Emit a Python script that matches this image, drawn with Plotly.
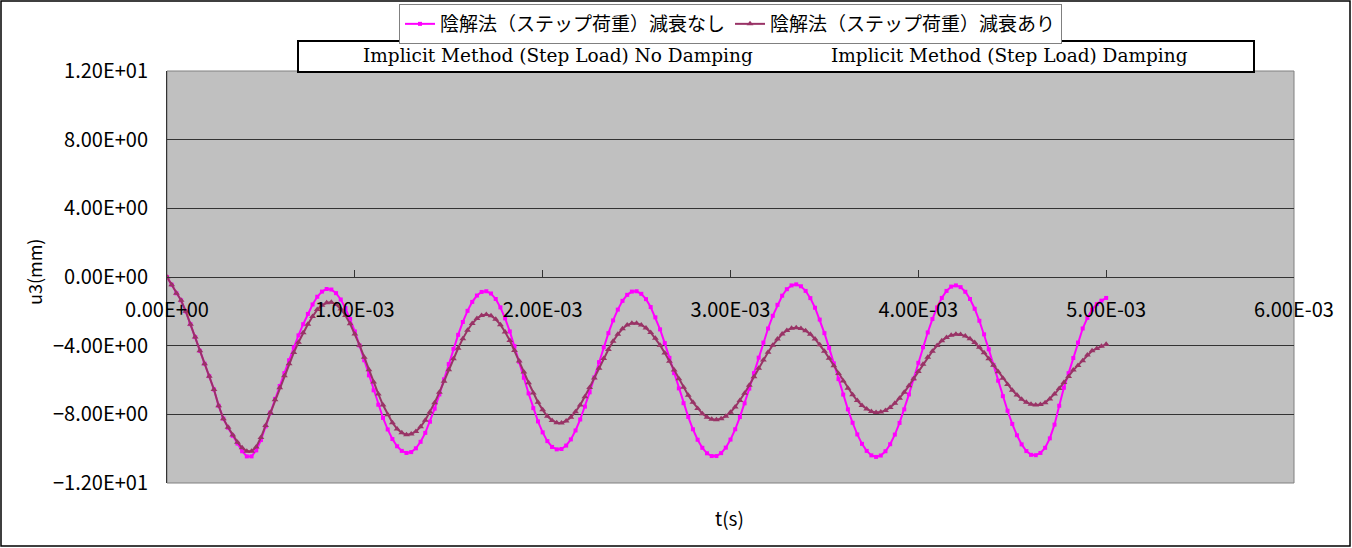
import plotly.graph_objects as go

# sampled response, u3 in mm, every 2.5e-5 s from 0 to 5e-3 s
no_damping = [
    0, -0.45, -0.95, -1.36, -2.00, -2.75, -3.50, -4.30,
    -5.05, -5.78, -6.55, -7.50, -8.25, -8.78, -9.25, -9.70,
    -10.15, -10.45, -10.45, -10.10, -9.50, -8.70, -7.90, -7.10,
    -6.35, -5.60, -4.85, -4.10, -3.40, -2.75, -2.15, -1.60,
    -1.15, -0.85, -0.70, -0.73, -0.94, -1.31, -1.81, -2.44,
    -3.17, -3.99, -4.85, -5.73, -6.60, -7.44, -8.21, -8.88,
    -9.44, -9.86, -10.13, -10.25, -10.20, -9.98, -9.60, -9.08,
    -8.43, -7.67, -6.84, -5.96, -5.07, -4.19, -3.37, -2.62,
    -1.97, -1.45, -1.08, -0.87, -0.83, -0.96, -1.28, -1.77,
    -2.41, -3.17, -4.03, -4.94, -5.87, -6.78, -7.64, -8.41,
    -9.05, -9.56, -9.90, -10.04, -10.02, -9.82, -9.46, -8.94,
    -8.30, -7.55, -6.72, -5.85, -4.96, -4.09, -3.27, -2.53,
    -1.90, -1.39, -1.04, -0.85, -0.83, -0.98, -1.29, -1.75,
    -2.35, -3.05, -3.85, -4.71, -5.60, -6.49, -7.35, -8.15,
    -8.87, -9.48, -9.95, -10.27, -10.43, -10.43, -10.26, -9.94,
    -9.47, -8.87, -8.16, -7.36, -6.50, -5.60, -4.70, -3.82,
    -3.00, -2.26, -1.62, -1.09, -0.71, -0.49, -0.43, -0.54,
    -0.81, -1.23, -1.79, -2.48, -3.27, -4.13, -5.03, -5.95,
    -6.85, -7.71, -8.49, -9.17, -9.72, -10.13, -10.39, -10.48,
    -10.40, -10.15, -9.74, -9.18, -8.50, -7.71, -6.84, -5.93,
    -5.00, -4.09, -3.23, -2.45, -1.77, -1.22, -0.81, -0.56,
    -0.49, -0.59, -0.86, -1.28, -1.85, -2.55, -3.34, -4.21,
    -5.12, -6.04, -6.94, -7.79, -8.56, -9.22, -9.75, -10.14,
    -10.36, -10.38, -10.25, -9.95, -9.40, -8.60, -7.50, -6.45,
    -5.60, -4.72, -3.82, -3.00, -2.38, -1.90, -1.58, -1.38,
    -1.22,
]

damping = [
    0, -0.45, -0.95, -1.36, -2.00, -2.75, -3.50, -4.30,
    -5.05, -5.78, -6.55, -7.50, -8.25, -8.75, -9.20, -9.62,
    -9.95, -10.15, -10.15, -9.90, -9.35, -8.65, -7.90, -7.15,
    -6.45, -5.75, -5.05, -4.40, -3.80, -3.25, -2.75, -2.30,
    -1.90, -1.65, -1.50, -1.47, -1.60, -1.86, -2.24, -2.73,
    -3.32, -3.97, -4.67, -5.40, -6.12, -6.81, -7.46, -8.02,
    -8.49, -8.85, -9.08, -9.19, -9.15, -9.00, -8.73, -8.35,
    -7.87, -7.32, -6.72, -6.07, -5.41, -4.76, -4.15, -3.59,
    -3.10, -2.71, -2.42, -2.24, -2.19, -2.26, -2.46, -2.78,
    -3.20, -3.70, -4.28, -4.89, -5.53, -6.16, -6.75, -7.29,
    -7.74, -8.11, -8.36, -8.49, -8.50, -8.39, -8.17, -7.85,
    -7.45, -6.97, -6.44, -5.88, -5.31, -4.75, -4.22, -3.74,
    -3.34, -3.02, -2.80, -2.69, -2.69, -2.79, -2.97, -3.23,
    -3.57, -3.97, -4.42, -4.91, -5.42, -5.93, -6.42, -6.89,
    -7.30, -7.66, -7.96, -8.17, -8.29, -8.32, -8.26, -8.11,
    -7.88, -7.57, -7.19, -6.77, -6.30, -5.81, -5.32, -4.84,
    -4.38, -3.97, -3.61, -3.32, -3.11, -2.99, -2.95, -3.00,
    -3.13, -3.33, -3.61, -3.94, -4.32, -4.73, -5.17, -5.62,
    -6.06, -6.48, -6.86, -7.20, -7.48, -7.69, -7.83, -7.89,
    -7.87, -7.77, -7.60, -7.36, -7.06, -6.72, -6.33, -5.92,
    -5.50, -5.08, -4.68, -4.32, -3.99, -3.72, -3.52, -3.39,
    -3.33, -3.35, -3.44, -3.60, -3.82, -4.09, -4.41, -4.76,
    -5.14, -5.52, -5.90, -6.26, -6.59, -6.88, -7.12, -7.30,
    -7.41, -7.45, -7.42, -7.33, -7.10, -6.82, -6.50, -6.15,
    -5.80, -5.42, -5.15, -4.88, -4.55, -4.30, -4.17, -4.04,
    -3.92,
]

time_step = 2.5e-5
t = [i * time_step for i in range(len(no_damping))]

x_tickvals = [0, 0.001, 0.002, 0.003, 0.004, 0.005, 0.006]
x_ticktext = ["0.00E+00", "1.00E-03", "2.00E-03", "3.00E-03", "4.00E-03", "5.00E-03", "6.00E-03"]
y_tickvals = [-12, -8, -4, 0, 4, 8, 12]
y_ticktext = ["\u22121.20E+01", "\u22128.00E+00", "\u22124.00E+00", "0.00E+00", "4.00E+00", "8.00E+00", "1.20E+01"]

names = ["陰解法（ステップ荷重）減衰なし", "陰解法（ステップ荷重）減衰あり"]
english = ["Implicit Method (Step Load) No Damping", "Implicit Method (Step Load) Damping"]

W, H = 1352, 548
L, R, T, B = 167, 58, 71, 65
PW, PH = W - L - R, H - T - B


def px_x(p):
    return (p - L) / PW


def px_y(p):
    return (H - B - p) / PH


jp_font = "Noto Sans CJK JP"

fig = go.Figure()
fig.add_trace(go.Scatter(
    x=t, y=no_damping, name=names[0], mode="lines+markers",
    line=dict(color="#FF00FF", width=2),
    marker=dict(symbol="square", size=4, color="#FF00FF"),
))
fig.add_trace(go.Scatter(
    x=t[:len(damping)], y=damping, name=names[1], mode="lines+markers",
    line=dict(color="#993366", width=2),
    marker=dict(symbol="triangle-up", size=6, color="#993366"),
))

shapes = [
    # plot area border
    dict(type="rect", xref="paper", yref="paper", x0=0, x1=1, y0=0, y1=1,
         line=dict(color="#808080", width=1), layer="below"),
    # english caption box
    dict(type="rect", xref="paper", yref="paper",
         x0=px_x(298), x1=px_x(1254), y0=px_y(72), y1=px_y(41),
         line=dict(color="black", width=2), fillcolor="white"),
    # chart outer border
    dict(type="rect", xref="paper", yref="paper",
         x0=px_x(1), x1=px_x(1350), y0=px_y(546), y1=px_y(1),
         line=dict(color="black", width=1.5)),
]


def label(text, x, y, size, family=jp_font, angle=0):
    return dict(text=text, x=px_x(x), y=px_y(y), xref="paper", yref="paper",
                xanchor="center", yanchor="middle", showarrow=False, textangle=angle,
                font=dict(family=family, size=size, color="black"))


annotations = [
    label(english[0], 558, 56, 18.5, family="DejaVu Serif"),
    label(english[1], 1009, 56, 18.5, family="DejaVu Serif"),
    label("u3(mm)", 34, 272, 18, angle=-90),
    label("t(s)", 729, 517, 19),
]

fig.update_layout(
    width=W, height=H,
    margin=dict(l=L, r=R, t=T, b=B, autoexpand=False),
    paper_bgcolor="white",
    plot_bgcolor="#C0C0C0",
    font=dict(family=jp_font, size=19, color="black"),
    showlegend=True,
    legend=dict(
        orientation="h", x=0.5, xanchor="center", y=px_y(4), yanchor="top",
        bgcolor="white", bordercolor="#808080", borderwidth=1,
        font=dict(family=jp_font, size=19, color="black"),
    ),
    xaxis=dict(
        range=[0, 0.006], anchor="free", position=0.5,
        tickvals=x_tickvals, ticktext=x_ticktext,
        ticks="inside", ticklen=7, tickcolor="#333333",
        showline=True, linecolor="#333333", linewidth=1,
        showgrid=False, zeroline=False, ticklabelstandoff=15,
        tickfont=dict(family=jp_font, size=20, color="black"),
    ),
    yaxis=dict(
        range=[-12, 12], tickvals=y_tickvals, ticktext=y_ticktext,
        showgrid=True, gridcolor="#333333", gridwidth=1,
        showline=True, linecolor="#333333", linewidth=1,
        zeroline=False, ticks="", ticklabelstandoff=14,
        tickfont=dict(family=jp_font, size=20, color="black"),
    ),
    shapes=shapes,
    annotations=annotations,
)

fig.write_html("out.html", config={"displayModeBar": False},
               post_script="document.body.style.margin='0';")
